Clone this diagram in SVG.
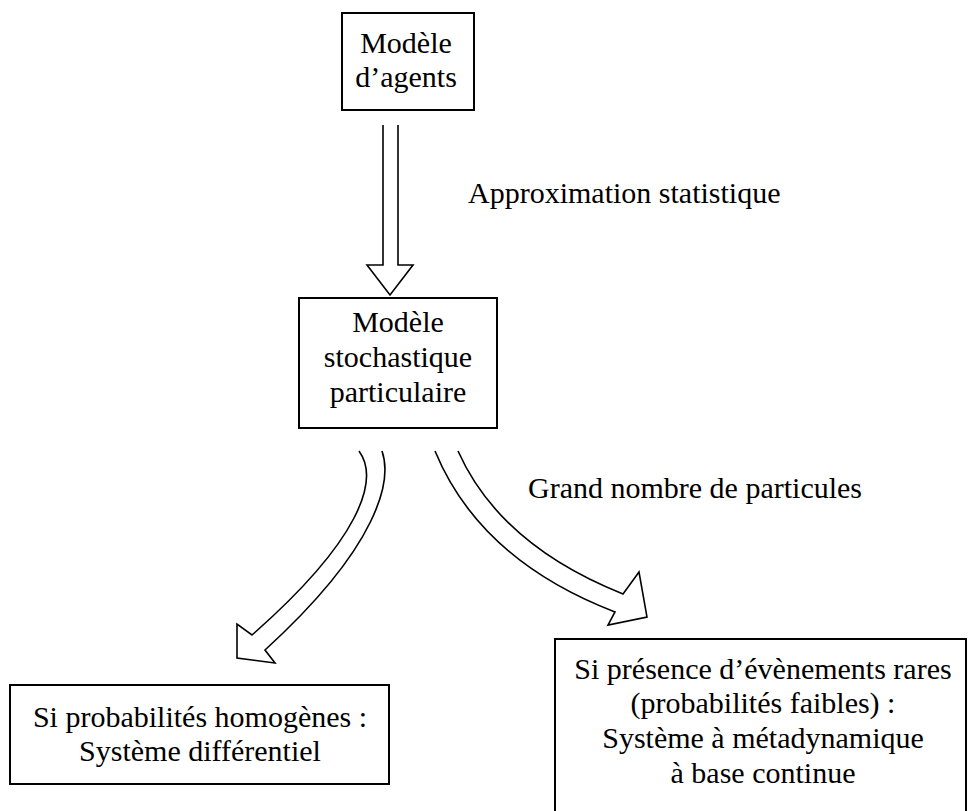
<svg xmlns="http://www.w3.org/2000/svg" width="969" height="811" viewBox="0 0 969 811">
<style>
.box{fill:#fff;stroke:#000;stroke-width:2}
.arr{fill:none;stroke:#000;stroke-width:1.6;stroke-linejoin:miter}
text{font-family:"Liberation Serif","Times New Roman",serif;font-size:30px;fill:#000}
.c{text-anchor:middle}
</style>
<rect width="969" height="811" fill="#fff"/>
<g id="connectors">
<path class="arr" d="M383,125 L383,265 L367,265 L390,295 L413,265 L398,265 L398,125"/>
<path class="arr" d="M359,451 C380,480 360,540 252,635 L237,624 L237,658 L275,663 L265,650 C380,545 392,480 382,451"/>
<path class="arr" d="M435,451 Q480,560 615,612 L608,625 L647,617 L639,572 L623,594 Q500,545 458,451"/>
<text x="468" y="203">Approximation statistique</text>
<text x="528" y="498">Grand nombre de particules</text>
</g>
<g id="agents">
<rect class="box" x="342" y="13" width="132" height="97"/>
<text class="c" x="406" y="53">Modèle</text>
<text class="c" x="406" y="87">d’agents</text>
</g>
<g id="stochastique">
<rect class="box" x="299" y="298" width="198" height="130"/>
<text class="c" x="398" y="332">Modèle</text>
<text class="c" x="398" y="367">stochastique</text>
<text class="c" x="398" y="402">particulaire</text>
</g>
<g id="differentiel">
<rect class="box" x="10" y="685" width="379" height="99"/>
<text class="c" x="200" y="727">Si probabilités homogènes :</text>
<text class="c" x="200" y="761">Système différentiel</text>
</g>
<g id="metadynamique">
<path class="box" d="M555,812 L555,639 L966,639 L966,812"/>
<text class="c" x="763" y="679">Si présence d’évènements rares</text>
<text class="c" x="763" y="713">(probabilités faibles) :</text>
<text class="c" x="763" y="748">Système à métadynamique</text>
<text class="c" x="763" y="783">à base continue</text>
</g>
</svg>
